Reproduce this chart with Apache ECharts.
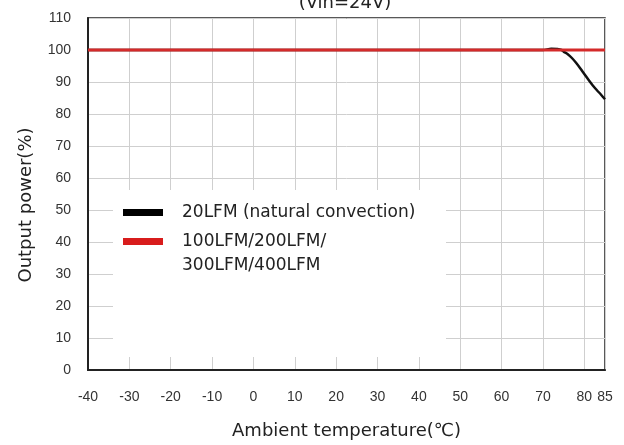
<!DOCTYPE html>
<html><head><meta charset="utf-8">
<script src="https://cdn.jsdelivr.net/npm/echarts@6/dist/echarts.min.js"></script>
<style>html,body{margin:0;padding:0;background:#fff}#c{width:624px;height:445px}</style>
</head><body><div id="c"></div>
<script>
var titleText = '(Vin=24V)';
var xName = 'Ambient temperature(\u2103)';
var yName = 'Output power(%)';
var legendNames = ['20LFM (natural convection)', '100LFM/200LFM/\n300LFM/400LFM'];
var temps20 = [-40, 70, 72, 73.5, 74.5, 75, 76, 77, 78, 79, 80, 81, 82, 83, 84, 85];
var power20 = [100, 100, 100.4, 100.3, 100, 99.5, 98.7, 97.5, 96, 94.3, 92.5, 90.7, 89, 87.5, 86.1, 84.6];
var temps100 = [-40, 85];
var power100 = [100, 100];

var font = 'DejaVu Sans';
var tickFont = 'Liberation Sans';
var chart = echarts.init(document.getElementById('c'));
function pairs(xs, ys){ return xs.map(function(x,i){ return [x, ys[i]]; }); }
chart.setOption({
  animation: false,
  backgroundColor: '#fff',
  title: { text: titleText, left: 340, textAlign: 'center', top: -11,
    textStyle: { fontFamily: font, fontSize: 18, fontWeight: 'normal', color: '#222' } },
  grid: { left: 88, right: 19, top: 18, bottom: 71, show: true, borderColor: '#222', borderWidth: 1.5, backgroundColor: 'transparent' },
  xAxis: { type: 'value', min: -40, max: 85, interval: 10,
    name: xName, nameLocation: 'middle', nameGap: 52,
    nameTextStyle: { fontFamily: font, fontSize: 18, color: '#222' },
    axisLine: { show: true, lineStyle: { color: '#222', width: 2 } },
    axisTick: { show: false },
    axisLabel: { fontFamily: tickFont, fontSize: 14, color: '#333', margin: 20, showMaxLabel: true, showMinLabel: true },
    splitLine: { show: true, lineStyle: { color: '#cfcfcf', width: 1 } } },
  yAxis: { type: 'value', min: 0, max: 110, interval: 10,
    name: yName, nameLocation: 'middle', nameGap: 53,
    nameTextStyle: { fontFamily: font, fontSize: 18, color: '#222', padding: [0, 22, 0, 0] },
    axisLine: { show: true, onZero: false, lineStyle: { color: '#222', width: 2 } },
    axisTick: { show: false },
    axisLabel: { fontFamily: tickFont, fontSize: 14, color: '#333', margin: 17 },
    splitLine: { show: true, lineStyle: { color: '#cfcfcf', width: 1 } } },
  graphic: [
    { type: 'rect', z: 1, shape: { x: 113, y: 190, width: 333, height: 167 }, style: { fill: '#fff' } },
    { type: 'rect', z: 2, shape: { x: 123, y: 209, width: 40, height: 7 }, style: { fill: '#000' } },
    { type: 'rect', z: 2, shape: { x: 123, y: 238, width: 40, height: 7 }, style: { fill: '#d81c1c' } },
    { type: 'text', z: 2, x: 182, y: 213, style: { text: legendNames[0], font: '17px "DejaVu Sans"', fill: '#222', verticalAlign: 'middle' } },
    { type: 'text', z: 2, x: 182, y: 230, style: { text: legendNames[1], font: '17px "DejaVu Sans"', fill: '#222', lineHeight: 24, verticalAlign: 'top' } }
  ],
  series: [
    { name: legendNames[0], type: 'line', data: pairs(temps20, power20), smooth: 0.3, symbol: 'none', z: 3,
      lineStyle: { color: '#111', width: 2.5 } },
    { name: legendNames[1], type: 'line', data: pairs(temps100, power100), symbol: 'none', z: 4,
      lineStyle: { color: '#d42a2a', width: 3 } }
  ]
});
</script></body></html>
